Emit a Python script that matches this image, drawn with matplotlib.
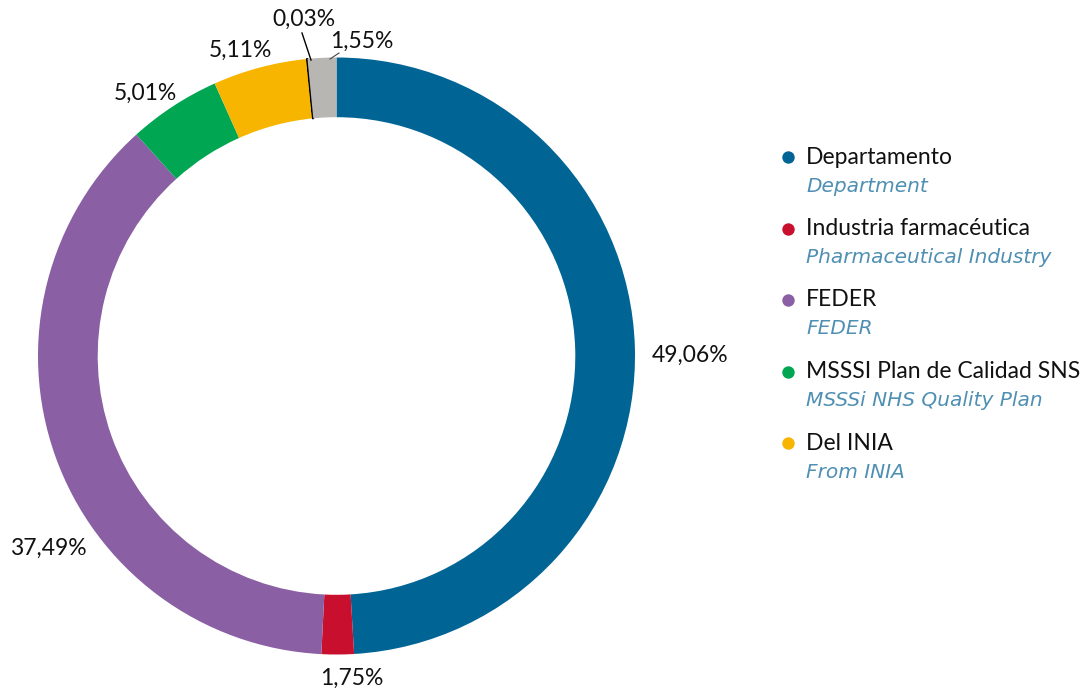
import matplotlib
matplotlib.use("Agg")
import matplotlib.pyplot as plt

plt.rcParams['font.family'] = ['Lato', 'DejaVu Sans']

# funding sources, clockwise from 12 o'clock
shares = [49.06, 1.75, 37.49, 5.01, 5.11, 0.03, 1.55]
share_labels = ["49,06%", "1,75%", "37,49%", "5,01%", "5,11%", "0,03%", "1,55%"]
colors = ["#006495", "#C8102E", "#8A5FA3", "#00A651", "#F7B500", "#000000", "#B8B6B2"]

legend_es = ["Departamento", "Industria farmacéutica", "FEDER",
             "MSSSI Plan de Calidad SNS", "Del INIA"]
legend_en = ["Department", "Pharmaceutical Industry", "FEDER",
             "MSSSi NHS Quality Plan", "From INIA"]

W, H = 1084, 689
fig = plt.figure(figsize=(W / 100, H / 100), dpi=100)

# donut
cx, cy, r = 336.5, 356, 298.5
ax = fig.add_axes([(cx - r) / W, (H - cy - r) / H, 2 * r / W, 2 * r / H])
wedges, _ = ax.pie(shares, colors=colors, startangle=90, counterclock=False,
                   radius=1.0, wedgeprops=dict(width=0.2, linewidth=0))
wedges[5].set_edgecolor("black")
wedges[5].set_linewidth(1.2)
ax.set_xlim(-1, 1)
ax.set_ylim(-1, 1)
ax.set_aspect("equal")
ax.axis("off")

# overlay in pixel coordinates for labels and legend
ov = fig.add_axes([0, 0, 1, 1])
ov.set_xlim(0, W)
ov.set_ylim(H, 0)
ov.axis("off")

label_pos = [(690, 355), (352, 678), (48, 548), (145, 93), (240, 50), (304, 19), (362, 41)]
for txt, (x, y) in zip(share_labels, label_pos):
    ov.text(x, y, txt, ha="center", va="center", fontsize=16.5, color="#111111")

# leader lines for the two thin slices at the top
ov.plot([302, 311], [33, 60], color="black", lw=1)
ov.plot([330, 339], [59, 53], color="#444444", lw=0.8)

y0, step = 157, 71.5
for i, (es, en) in enumerate(zip(legend_es, legend_en)):
    y = y0 + i * step
    ov.scatter([788], [y], s=80, color=colors[i], linewidths=0)
    ov.text(806, y, es, ha="left", va="center", fontsize=16.5, color="#111111")
    ov.text(806, y + 29, en, ha="left", va="center", fontsize=14.5,
            color="#4F8FB3", style="italic", family="DejaVu Sans")

fig.savefig("out.png", dpi=100)
